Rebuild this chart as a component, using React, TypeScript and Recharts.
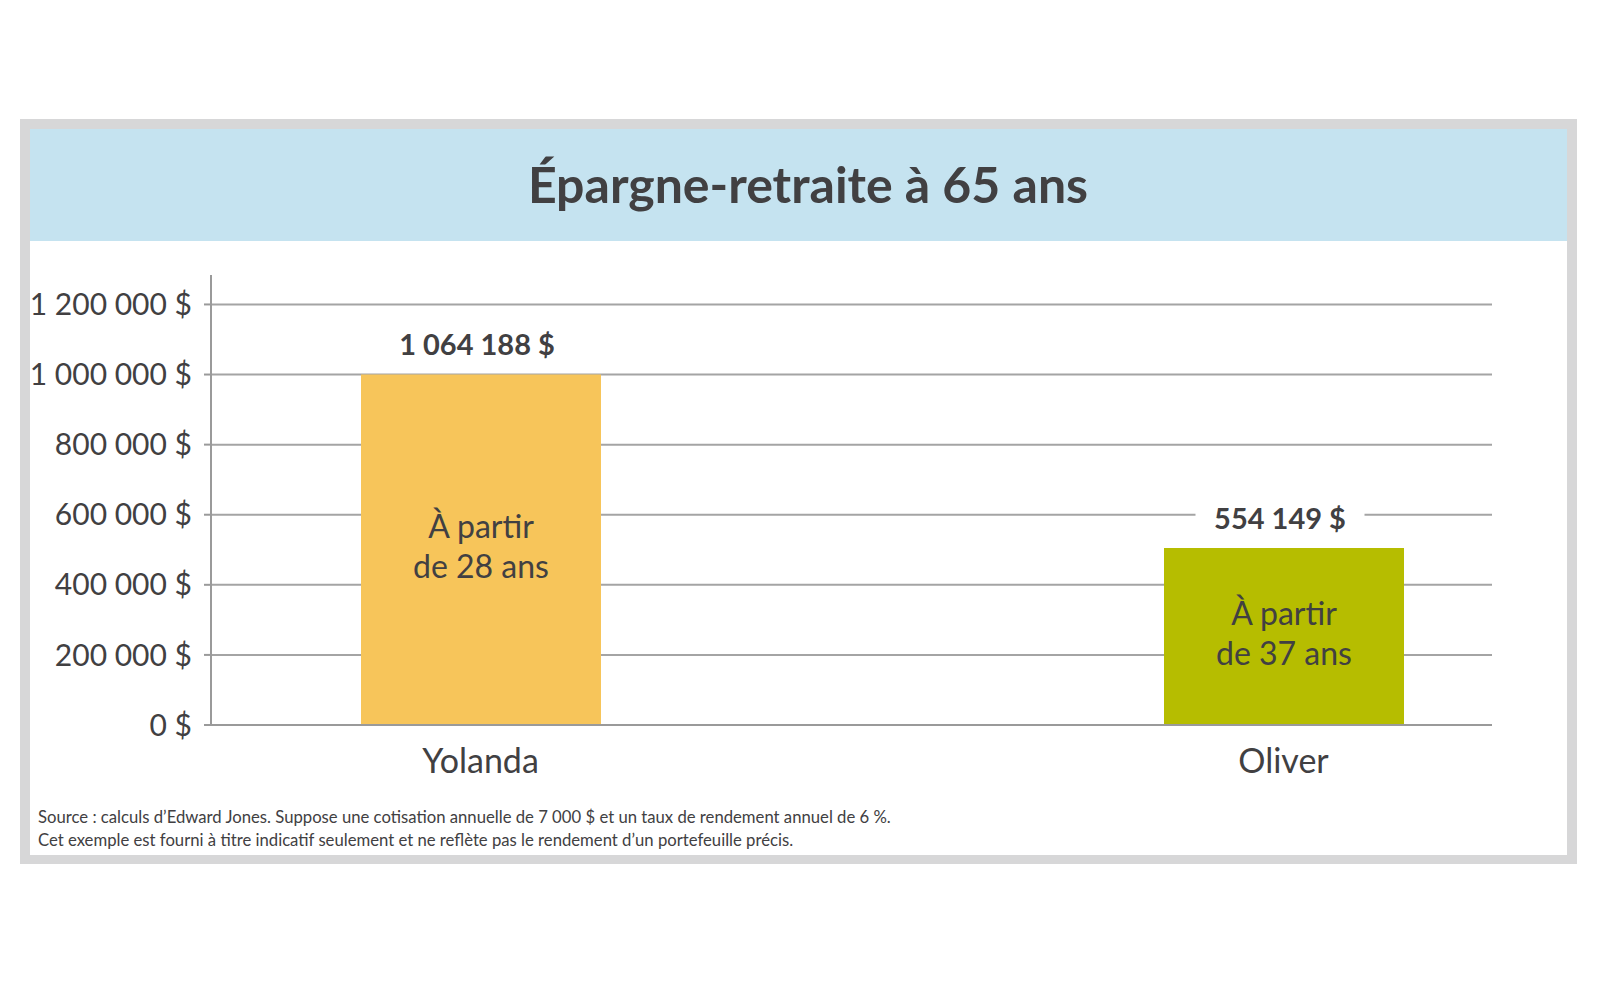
import { BarChart, Bar, XAxis, YAxis, CartesianGrid, Cell, LabelList } from 'recharts'

// values
const people = ['Yolanda', 'Oliver']
const barHeights = [1000000, 505000] // bar tops as drawn in the graphic
const totals = [1064188, 554149]
const startAges = [28, 37]
const barColors = ['#f7c55a', '#b6bd00']
const yTicks = [0, 200000, 400000, 600000, 800000, 1000000, 1200000]
const yTop = 1284000

const data = people.map((name, i) => ({
  name,
  value: barHeights[i],
  total: totals[i],
  age: startAges[i]
}))

const FONT = 'Lato, "Open Sans", sans-serif'
const TEXT = '#414042'

const money = (n: number) => String(n).replace(/\B(?=(\d{3})+(?!\d))/g, ' ') + ' $'

const ValueLabel = (props: any) => {
  const { x, y, width, value } = props
  const cx = x + width / 2
  const cy = y - 31
  const label = money(value)
  const w = label.length * 15 + 34
  return (
    <g>
      <rect x={cx - w / 2 - 4} y={cy - 16} width={w} height={32} fill="#ffffff" />
      <text x={cx - 4} y={cy} textAnchor="middle" dominantBaseline="central" fontFamily={FONT} fontWeight={700} fontSize={29} fill={TEXT}>
        {label}
      </text>
    </g>
  )
}

const AgeLabel = (props: any) => {
  const { x, y, width, height, value } = props
  const cx = x + width / 2
  const cy = y + height / 2
  return (
    <text textAnchor="middle" fontFamily={FONT} fontSize={32} fill={TEXT}>
      <tspan x={cx} y={cy - 24} dominantBaseline="central">À partir</tspan>
      <tspan x={cx} y={cy + 16} dominantBaseline="central">de {value} ans</tspan>
    </text>
  )
}

const NameTick = (props: any) => {
  const { x, y, payload } = props
  return (
    <text x={x} y={y + 26} textAnchor="middle" dominantBaseline="central" fontFamily={FONT} fontSize={34} fill={TEXT}>
      {payload.value}
    </text>
  )
}

export default function App() {
  return (
    <div style={{ position: 'absolute', left: 0, top: 0, width: 1600, height: 981, background: '#fff', fontFamily: FONT }}>
      <div style={{ position: 'absolute', left: 20, top: 119, width: 1557, height: 745, background: '#d7d7d8' }}>
        <div style={{ position: 'absolute', left: 10, top: 10, width: 1537, height: 726, background: '#fff' }}>
          <div style={{ position: 'absolute', left: 0, top: 0, width: 1537, height: 112, background: '#c5e3f0' }} />
        </div>
      </div>

      <div style={{ position: 'absolute', left: 0, top: 153, width: 1616, textAlign: 'center', fontSize: 50, fontWeight: 700, color: TEXT, lineHeight: '62px' }}>
        Épargne-retraite à 65 ans
      </div>

      <div style={{ position: 'absolute', left: 0, top: 0 }}>
        <BarChart
          width={1600}
          height={981}
          data={data}
          margin={{ top: 275, right: 108, left: 31, bottom: 196 }}
        >
          <CartesianGrid vertical={false} syncWithTicks stroke="#a4a4a4" strokeWidth={2} />
          <XAxis
            dataKey="name"
            padding={{ left: -132, right: -193 }}
            tickLine={false}
            axisLine={{ stroke: '#9a9a9a', strokeWidth: 2 }}
            tick={<NameTick />}
            height={60}
          />
          <YAxis
            type="number"
            domain={[0, yTop]}
            ticks={yTicks}
            interval={0}
            tickFormatter={money}
            width={180}
            tickSize={7}
            tickMargin={12}
            axisLine={{ stroke: '#9a9a9a', strokeWidth: 2 }}
            tickLine={{ stroke: '#9a9a9a', strokeWidth: 2 }}
            tick={{ fill: TEXT, fontSize: 30, fontFamily: FONT }}
          />
          <Bar dataKey="value" barSize={240} isAnimationActive={false}>
            {data.map((d, i) => (
              <Cell key={d.name} fill={barColors[i]} />
            ))}
            <LabelList dataKey="total" content={ValueLabel} />
            <LabelList dataKey="age" content={AgeLabel} />
          </Bar>
        </BarChart>
      </div>

      <div style={{ position: 'absolute', left: 38, top: 806, fontSize: 16.7, lineHeight: '23px', color: TEXT }}>
        <div>Source : calculs d’Edward Jones. Suppose une cotisation annuelle de 7 000 $ et un taux de rendement annuel de 6 %.</div>
        <div>Cet exemple est fourni à titre indicatif seulement et ne reflète pas le rendement d’un portefeuille précis.</div>
      </div>
    </div>
  )
}
